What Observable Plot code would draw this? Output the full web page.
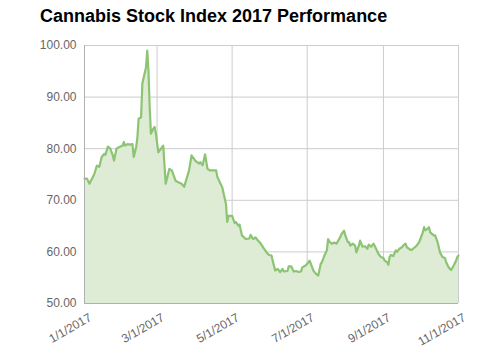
<!DOCTYPE html>
<html>
<head>
<meta charset="utf-8">
<script src="https://cdn.jsdelivr.net/npm/d3@7"></script>
<script src="https://cdn.jsdelivr.net/npm/@observablehq/plot@0.6"></script>
<style>
  html, body { margin: 0; padding: 0; background: #fff; }
  #wrap { position: relative; width: 490px; height: 362px; }
  #title { position: absolute; left: 40px; top: 6px; font: bold 18px "Liberation Sans", Arial, sans-serif; color: #000; white-space: nowrap; }
  #chart { position: absolute; left: 0; top: 0; }
</style>
</head>
<body>
<div id="wrap">
  <div id="chart"></div>
  <div id="title">Cannabis Stock Index 2017 Performance</div>
</div>
<script>
const dates = [
  "2017-01-01","2017-01-03","2017-01-05","2017-01-09","2017-01-11","2017-01-13","2017-01-15","2017-01-17","2017-01-18","2017-01-20",
  "2017-01-22","2017-01-24","2017-01-25","2017-01-27","2017-01-29","2017-02-01","2017-02-02","2017-02-03","2017-02-05","2017-02-07",
  "2017-02-09","2017-02-10","2017-02-12","2017-02-13","2017-02-14","2017-02-16","2017-02-17","2017-02-20","2017-02-21","2017-02-22",
  "2017-02-23","2017-02-24","2017-02-26","2017-02-27","2017-02-28","2017-03-02","2017-03-06","2017-03-08","2017-03-11","2017-03-13",
  "2017-03-16","2017-03-19","2017-03-21","2017-03-23","2017-03-27","2017-03-29","2017-04-01","2017-04-04","2017-04-05","2017-04-07",
  "2017-04-09","2017-04-11","2017-04-13","2017-04-18","2017-04-19","2017-04-23","2017-04-26","2017-04-27","2017-04-28","2017-05-01",
  "2017-05-03","2017-05-04","2017-05-06","2017-05-07","2017-05-09","2017-05-12","2017-05-15","2017-05-16","2017-05-18","2017-05-20",
  "2017-05-22","2017-05-24","2017-05-27","2017-05-29","2017-05-31","2017-06-02","2017-06-03","2017-06-05","2017-06-07","2017-06-09",
  "2017-06-11","2017-06-12","2017-06-15","2017-06-16","2017-06-18","2017-06-20","2017-06-22","2017-06-24","2017-06-26","2017-06-27",
  "2017-06-30","2017-07-02","2017-07-03","2017-07-04","2017-07-06","2017-07-08","2017-07-10","2017-07-12","2017-07-13","2017-07-15",
  "2017-07-17","2017-07-18","2017-07-19","2017-07-21","2017-07-23","2017-07-25","2017-07-26","2017-07-28","2017-07-29","2017-07-31",
  "2017-08-01","2017-08-03","2017-08-04","2017-08-05","2017-08-07","2017-08-09","2017-08-10","2017-08-12","2017-08-13","2017-08-15",
  "2017-08-17","2017-08-19","2017-08-20","2017-08-22","2017-08-24","2017-08-26","2017-08-28","2017-08-30","2017-09-01","2017-09-02",
  "2017-09-04","2017-09-05","2017-09-06","2017-09-07","2017-09-09","2017-09-11","2017-09-12","2017-09-14","2017-09-16","2017-09-17",
  "2017-09-19","2017-09-20","2017-09-23","2017-09-24","2017-09-26","2017-09-28","2017-09-30","2017-10-01","2017-10-03","2017-10-04",
  "2017-10-05","2017-10-07","2017-10-08","2017-10-09","2017-10-12","2017-10-13","2017-10-15","2017-10-17","2017-10-19","2017-10-21",
  "2017-10-22","2017-10-24","2017-10-26","2017-10-28","2017-10-30","2017-10-31","2017-11-01"
];
const values = [
  74.2,74.2,73.2,75.1,76.7,76.5,78.4,79.0,78.8,80.4,
  80.0,78.7,77.7,80.0,80.3,80.6,81.3,80.6,80.9,80.8,
  80.9,78.4,80.3,82.2,85.8,86.1,92.6,95.8,99.0,95.2,
  88.0,82.9,83.9,84.2,83.0,79.3,80.6,73.2,76.1,75.8,
  73.8,73.4,73.2,72.6,75.8,78.7,77.7,77.1,77.4,76.8,
  78.9,76.1,75.8,75.8,74.5,72.5,69.3,65.8,67.0,67.0,
  65.6,65.8,65.1,65.3,63.2,62.5,62.6,63.3,62.5,62.8,
  62.2,61.7,60.6,59.9,59.4,59.3,58.3,56.4,56.7,56.1,
  56.7,56.2,56.3,57.2,57.2,56.2,56.3,56.1,56.2,57.0,
  57.4,58.0,58.3,57.7,56.4,55.8,55.4,57.7,58.0,59.3,
  60.3,62.5,62.0,61.6,61.8,61.6,62.1,62.9,63.5,64.1,
  63.2,61.9,61.9,61.2,61.6,61.2,59.9,61.2,62.2,61.0,
  61.1,60.6,61.4,61.0,61.6,60.6,59.6,59.0,58.8,58.3,
  58.0,57.5,59.0,59.4,59.2,60.3,60.0,60.6,60.9,61.2,
  61.6,60.9,60.4,60.4,60.8,61.2,61.9,62.5,63.8,64.8,
  64.2,64.5,64.8,63.8,63.2,63.2,61.9,59.9,59.0,58.8,
  58.0,57.0,56.5,57.3,58.3,59.0,59.3
];
const xTicks = ["2017-01-01","2017-03-01","2017-05-01","2017-07-01","2017-09-01","2017-11-01"];
const yTicks = [50, 60, 70, 80, 90, 100];

const parse = d3.utcParse("%Y-%m-%d");
const data = dates.map((d, i) => ({date: parse(d), value: values[i]}));
const tickDates = xTicks.map(parse);
const fmtDate = d => `${d.getUTCMonth() + 1}/${d.getUTCDate()}/${d.getUTCFullYear()}`;

const chart = Plot.plot({
  width: 490,
  height: 362,
  marginLeft: 84,
  marginRight: 32,
  marginTop: 45,
  marginBottom: 59,
  style: {fontFamily: "'Liberation Sans', Arial, sans-serif", fontSize: "12px", background: "#fff"},
  x: {type: "utc", domain: [tickDates[0], tickDates[tickDates.length - 1]], axis: null},
  y: {domain: [50, 100], axis: null},
  marks: [
    Plot.gridX(tickDates, {stroke: "#cccccc", strokeOpacity: 1}),
    Plot.gridY(yTicks, {stroke: "#cccccc", strokeOpacity: 1}),
    Plot.areaY(data, {x: "date", y1: 50, y2: "value", fill: "#deebd5", fillOpacity: 1}),
    Plot.lineY(data, {x: "date", y: "value", stroke: "#8cc474", strokeWidth: 2.2}),
    Plot.ruleY([50], {stroke: "#b0b0b0"}),
    Plot.ruleX([tickDates[0]], {stroke: "#b0b0b0"}),
    Plot.axisY({ticks: yTicks, tickFormat: d3.format(".2f"), tickSize: 0, tickPadding: 8, fill: "#666", fontSize: 12, label: null}),
    Plot.text(tickDates, {x: d => d, frameAnchor: "bottom", text: fmtDate, rotate: -30, textAnchor: "end", lineAnchor: "middle", dx: 6, dy: 13, fill: "#666", fontSize: 12})
  ]
});
document.getElementById("chart").appendChild(chart);
</script>
</body>
</html>
